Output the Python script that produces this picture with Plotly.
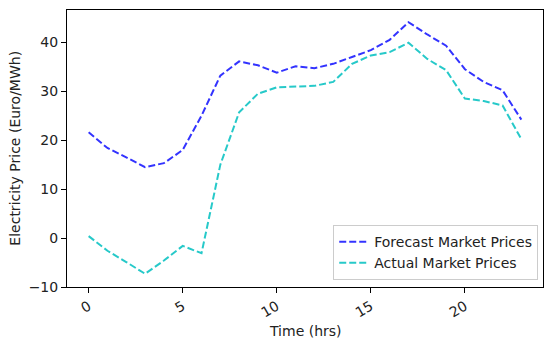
import plotly.graph_objects as go

hours = list(range(24))
forecast = [21.6, 18.4, 16.5, 14.5, 15.3, 18.0, 25.0, 33.2, 36.1, 35.3, 33.8, 35.1,
            34.7, 35.6, 37.0, 38.4, 40.5, 44.1, 41.6, 39.3, 34.5, 31.9, 30.2, 24.2]
actual = [0.4, -2.6, -4.9, -7.3, -4.6, -1.6, -3.1, 15.0, 25.7, 29.5, 30.8, 30.9,
          31.1, 31.9, 35.6, 37.3, 38.0, 39.9, 36.6, 34.3, 28.5, 28.0, 27.1, 20.2]
x_ticks = [0, 5, 10, 15, 20]
y_ticks = [-10, 0, 10, 20, 30, 40]
x_title = "Time (hrs)"
y_title = "Electricity Price (Euro/MWh)"

FONT = "DejaVu Sans"
FS = 14

fig = go.Figure()
fig.add_trace(go.Scatter(x=hours, y=forecast, mode="lines", name="Forecast Market Prices",
                         line=dict(color="rgba(0,0,255,0.8)", width=2, dash="7px,3px")))
fig.add_trace(go.Scatter(x=hours, y=actual, mode="lines", name="Actual Market Prices",
                         line=dict(color="rgba(0,191,191,0.85)", width=2, dash="7px,3px")))

axis_common = dict(showgrid=False, zeroline=False, showline=True, linecolor="black", linewidth=1,
                   mirror=True, ticks="outside", ticklen=5, tickcolor="black", automargin=False,
                   tickfont=dict(family=FONT, size=FS, color="#222"))
fig.update_xaxes(range=[-1.15, 24.15], tickvals=x_ticks, tickangle=-30, **axis_common)
fig.update_yaxes(range=[-10.0, 46.6], tickvals=y_ticks, **axis_common)

fig.add_annotation(text=x_title, xref="paper", yref="paper", x=0.5, y=-0.159,
                   xanchor="center", yanchor="middle", showarrow=False,
                   font=dict(family=FONT, size=FS, color="#222"))
fig.add_annotation(text=y_title, xref="paper", yref="paper", x=-0.111, y=0.5,
                   xanchor="center", yanchor="middle", textangle=-90, showarrow=False,
                   font=dict(family=FONT, size=FS, color="#222"))

fig.update_layout(
    width=550, height=344, margin=dict(l=67, r=7, t=10, b=57, autoexpand=False),
    plot_bgcolor="white", paper_bgcolor="white",
    font=dict(family=FONT, size=FS, color="#222"),
    legend=dict(x=0.99, y=0.025, xanchor="right", yanchor="bottom",
                bordercolor="#cccccc", borderwidth=1, bgcolor="rgba(255,255,255,0.8)",
                itemwidth=30,
                font=dict(family=FONT, size=FS, color="#222"), tracegroupgap=0),
    showlegend=True,
)
fig.write_html("out.html", post_script="document.body.style.margin='0px';",
               config={"displayModeBar": False})
